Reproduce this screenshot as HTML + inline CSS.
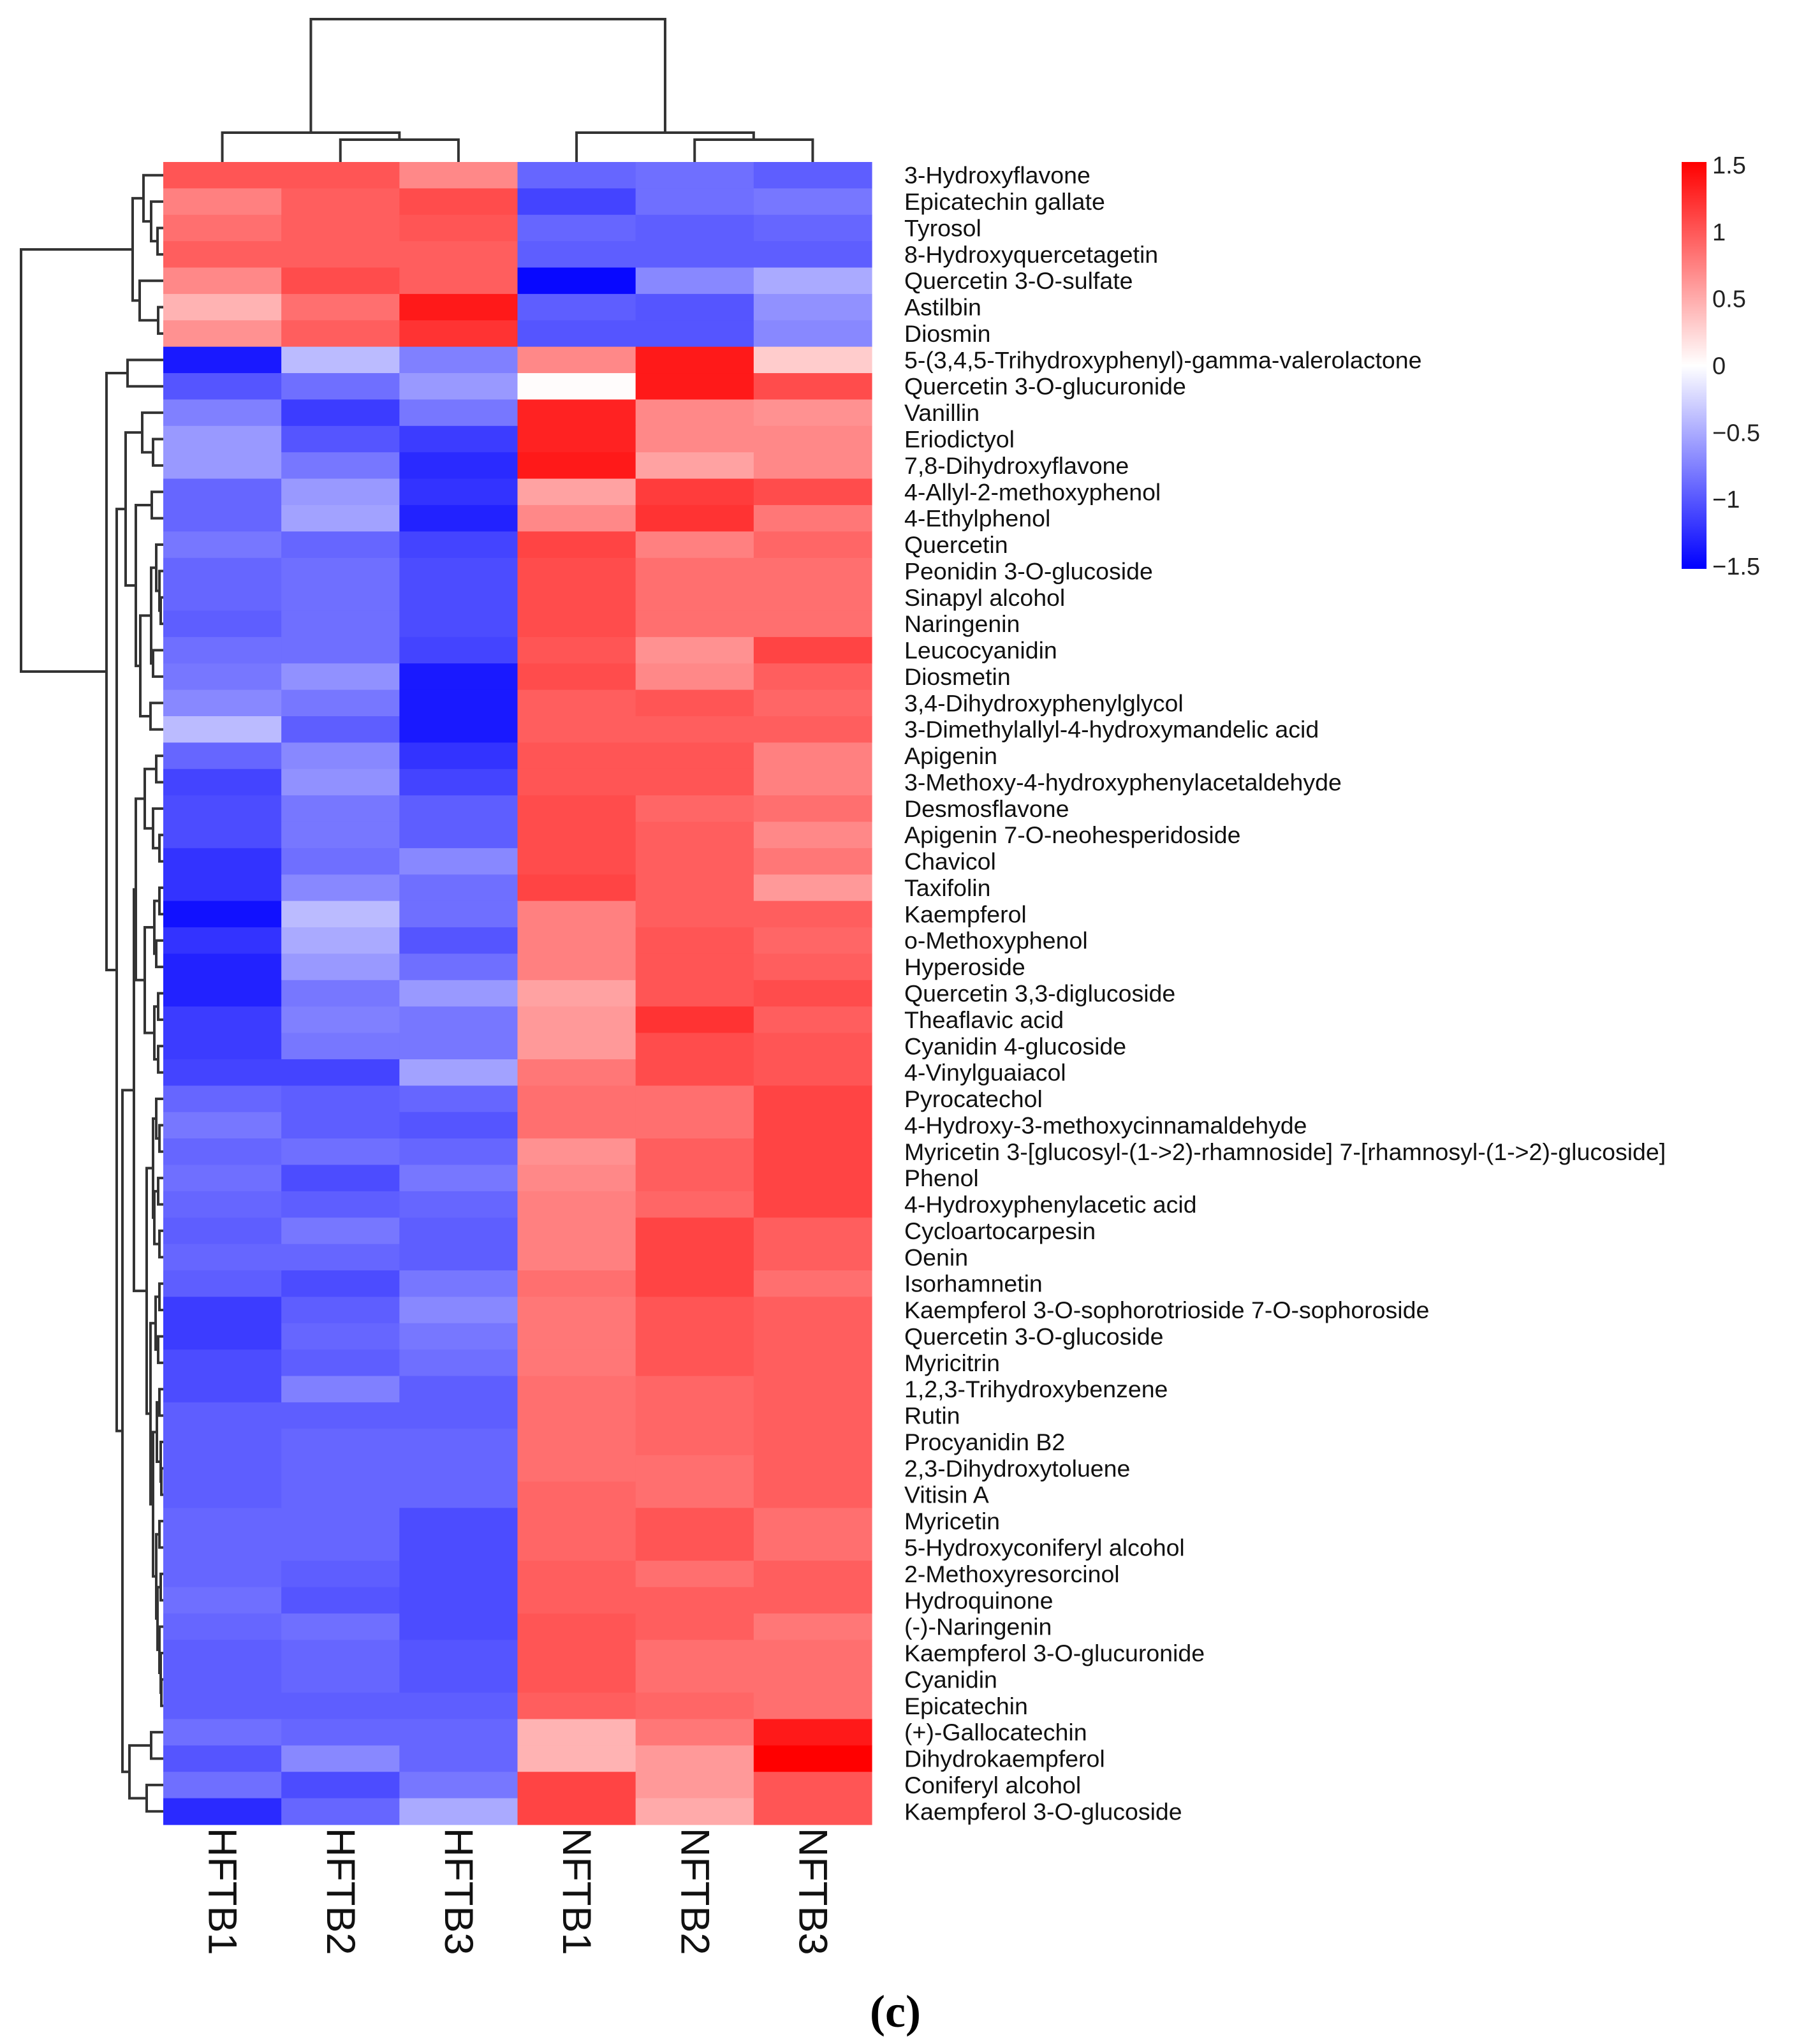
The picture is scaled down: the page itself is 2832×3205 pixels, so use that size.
<!DOCTYPE html>
<html><head><meta charset="utf-8"><title>Heatmap</title>
<style>html,body{margin:0;padding:0;background:#fff}svg{display:block}text{font-family:"Liberation Sans",sans-serif}</style></head>
<body>
<svg id="chart" width="2832" height="3205" viewBox="0 0 2832 3205" xmlns="http://www.w3.org/2000/svg">
<defs>
<linearGradient id="cbar" x1="0" y1="0" x2="0" y2="1">
<stop offset="0" stop-color="#ff0000"/><stop offset="0.5" stop-color="#ffffff"/><stop offset="1" stop-color="#0000ff"/>
</linearGradient>
</defs>
<g id="cells"></g>
<g id="rowlabels"></g>
<g id="collabels"></g>
<g id="dendro" stroke="#333" stroke-width="4" fill="none"></g>
<g id="legend">
<rect x="2637" y="254" width="39" height="638" fill="url(#cbar)"/>
</g>
<text x="1404" y="3178" style="font-family:'Liberation Serif',serif" font-weight="bold" font-size="72" text-anchor="middle">(c)</text>
</svg>
<script>
const rowNames = ["3-Hydroxyflavone","Epicatechin gallate","Tyrosol","8-Hydroxyquercetagetin","Quercetin 3-O-sulfate","Astilbin","Diosmin","5-(3,4,5-Trihydroxyphenyl)-gamma-valerolactone","Quercetin 3-O-glucuronide","Vanillin","Eriodictyol","7,8-Dihydroxyflavone","4-Allyl-2-methoxyphenol","4-Ethylphenol","Quercetin","Peonidin 3-O-glucoside","Sinapyl alcohol","Naringenin","Leucocyanidin","Diosmetin","3,4-Dihydroxyphenylglycol","3-Dimethylallyl-4-hydroxymandelic acid","Apigenin","3-Methoxy-4-hydroxyphenylacetaldehyde","Desmosflavone","Apigenin 7-O-neohesperidoside","Chavicol","Taxifolin","Kaempferol","o-Methoxyphenol","Hyperoside","Quercetin 3,3-diglucoside","Theaflavic acid","Cyanidin 4-glucoside","4-Vinylguaiacol","Pyrocatechol","4-Hydroxy-3-methoxycinnamaldehyde","Myricetin 3-[glucosyl-(1->2)-rhamnoside] 7-[rhamnosyl-(1->2)-glucoside]","Phenol","4-Hydroxyphenylacetic acid","Cycloartocarpesin","Oenin","Isorhamnetin","Kaempferol 3-O-sophorotrioside 7-O-sophoroside","Quercetin 3-O-glucoside","Myricitrin","1,2,3-Trihydroxybenzene","Rutin","Procyanidin B2","2,3-Dihydroxytoluene","Vitisin A","Myricetin","5-Hydroxyconiferyl alcohol","2-Methoxyresorcinol","Hydroquinone","(-)-Naringenin","Kaempferol 3-O-glucuronide","Cyanidin","Epicatechin","(+)-Gallocatechin","Dihydrokaempferol","Coniferyl alcohol","Kaempferol 3-O-glucoside"];
const colNames = ["HFTB1","HFTB2","HFTB3","NFTB1","NFTB2","NFTB3"];
const legendTicks = [1.5,1,0.5,0,-0.5,-1,-1.5];
const legendTickLabels = ["1.5","1","0.5","0","\u22120.5","\u22121","\u22121.5"];
const values = [
[1.0,1.0,0.7,-0.9,-0.85,-0.95],
[0.75,0.95,1.05,-1.1,-0.85,-0.8],
[0.85,0.95,1.0,-0.9,-0.95,-0.9],
[0.95,0.95,0.95,-0.95,-0.95,-0.95],
[0.7,1.05,0.95,-1.45,-0.7,-0.5],
[0.45,0.85,1.35,-0.95,-1.0,-0.65],
[0.65,0.95,1.2,-1.0,-1.0,-0.7],
[-1.35,-0.4,-0.75,0.7,1.35,0.3],
[-1.0,-0.85,-0.6,0.02,1.35,1.05],
[-0.75,-1.15,-0.8,1.3,0.7,0.65],
[-0.6,-1.0,-1.15,1.3,0.7,0.7],
[-0.6,-0.8,-1.25,1.35,0.55,0.7],
[-0.9,-0.6,-1.2,0.55,1.15,1.05],
[-0.9,-0.55,-1.3,0.7,1.2,0.8],
[-0.8,-0.9,-1.1,1.1,0.75,0.9],
[-0.9,-0.85,-1.05,1.05,0.85,0.85],
[-0.9,-0.85,-1.05,1.05,0.85,0.85],
[-0.95,-0.85,-1.05,1.05,0.85,0.85],
[-0.85,-0.85,-1.1,1.0,0.65,1.1],
[-0.8,-0.65,-1.35,1.05,0.7,0.95],
[-0.7,-0.8,-1.35,0.95,1.0,0.9],
[-0.4,-0.95,-1.35,0.95,0.95,0.95],
[-0.9,-0.7,-1.2,1.0,1.0,0.75],
[-1.1,-0.65,-1.1,1.0,1.0,0.75],
[-1.05,-0.8,-0.95,1.05,0.9,0.85],
[-1.05,-0.8,-0.95,1.05,0.95,0.7],
[-1.2,-0.85,-0.7,1.05,0.95,0.8],
[-1.2,-0.7,-0.85,1.1,0.95,0.6],
[-1.4,-0.4,-0.85,0.75,0.95,0.95],
[-1.2,-0.5,-1.0,0.75,1.0,0.9],
[-1.3,-0.6,-0.85,0.75,1.0,0.95],
[-1.3,-0.8,-0.6,0.55,1.0,1.05],
[-1.15,-0.75,-0.8,0.6,1.2,0.95],
[-1.15,-0.8,-0.8,0.6,1.05,1.0],
[-1.1,-1.1,-0.55,0.8,1.05,1.0],
[-0.9,-0.95,-0.9,0.85,0.85,1.1],
[-0.8,-0.95,-1.0,0.85,0.85,1.1],
[-0.9,-0.85,-0.9,0.65,0.95,1.1],
[-0.85,-1.05,-0.8,0.7,0.95,1.1],
[-0.9,-0.95,-0.9,0.75,0.9,1.1],
[-0.95,-0.8,-0.95,0.75,1.1,0.95],
[-0.9,-0.9,-0.95,0.75,1.1,0.95],
[-0.95,-1.05,-0.8,0.85,1.1,0.85],
[-1.15,-0.95,-0.7,0.8,1.0,0.95],
[-1.15,-0.9,-0.8,0.8,1.0,0.95],
[-1.05,-0.95,-0.85,0.8,1.0,0.95],
[-1.05,-0.75,-0.95,0.85,0.9,0.95],
[-0.95,-0.95,-0.95,0.85,0.9,0.95],
[-0.95,-0.9,-0.9,0.85,0.9,0.95],
[-0.95,-0.9,-0.9,0.85,0.85,0.95],
[-0.95,-0.9,-0.9,0.9,0.85,0.95],
[-0.9,-0.9,-1.05,0.9,1.0,0.85],
[-0.9,-0.9,-1.05,0.9,1.0,0.85],
[-0.9,-0.95,-1.05,0.95,0.85,0.95],
[-0.85,-1.0,-1.05,0.95,0.95,0.95],
[-0.9,-0.85,-1.05,1.0,0.95,0.8],
[-0.95,-0.9,-1.0,1.0,0.85,0.85],
[-0.95,-0.9,-1.0,1.0,0.85,0.85],
[-0.95,-0.95,-0.95,0.95,0.9,0.85],
[-0.85,-0.9,-0.9,0.45,0.8,1.35],
[-1.0,-0.7,-0.9,0.45,0.6,1.5],
[-0.85,-1.05,-0.8,1.1,0.6,1.0],
[-1.25,-0.9,-0.5,1.1,0.5,1.0]
];
// dendrogram topology: [mergeHeight, left, right]; leaves are indices
const rowTree = [33,
 [208,[225,0,[237,1,[247,2,3]]],[219,4,[248,5,6]]],
 [167,[200,7,8],
  [183,
   [197,[223,9,[240,10,11]],[213,[238,12,13],[220,[237,[245,14,[250,15,[252,16,17]]],[240,18,19]],[236,20,21]]]],
   [192,
    [210,
     [213,[227,[245,22,23],[240,24,[250,25,26]]],[227,[242,[250,27,28],[245,29,30]],[242,[248,31,32],[248,33,34]]]],
     [230,[240,[245,35,[250,36,37]],[242,[248,38,39],[250,40,41]]],[236,[244,[250,42,43],[248,44,45]],[240,[246,[250,46,47],[252,48,[253,49,50]]],[245,[250,51,52],[247,[252,53,54],[250,55,[252,56,[253,57,58]]]]]]]]],
    [203,[237,59,60],[230,61,62]]]]]];
const colTree = [30,[208,0,[219,1,2]],[208,3,[219,4,5]]];

const NS="http://www.w3.org/2000/svg";
const X0=256, X1=1367, Y0=254, Y1=2861;
const cw=(X1-X0)/colNames.length, rh=(Y1-Y0)/rowNames.length;
const xCol=i=>X0+i*cw, yRow=i=>Y0+i*rh;
function color(v){v=Math.max(-1.5,Math.min(1.5,v));const t=Math.abs(v)/1.5;const c=Math.round(255*(1-t));return v>=0?`rgb(255,${c},${c})`:`rgb(${c},${c},255)`;}
function mk(tag,attrs,parent){const e=document.createElementNS(NS,tag);for(const k in attrs)e.setAttribute(k,attrs[k]);parent.appendChild(e);return e;}

const cells=document.getElementById('cells');
values.forEach((row,r)=>row.forEach((v,c)=>{
  const e=mk('rect',{x:xCol(c),y:yRow(r),width:cw+0.6,height:rh+0.6,fill:color(v)},cells);
  
  
}));
const rl=document.getElementById('rowlabels');
rowNames.forEach((n,r)=>{
  const t=mk('text',{x:1418,y:yRow(r)+rh/2,'font-size':37.5,'dominant-baseline':'central',fill:'#111'},rl);
  t.textContent=n;
  
  
});
const cl=document.getElementById('collabels');
colNames.forEach((n,c)=>{
  const cx=xCol(c)+cw/2, y=2866;
  const t=mk('text',{x:0,y:0,'font-size':63,'dominant-baseline':'central',transform:`translate(${cx},${y}) rotate(90)`,fill:'#111'},cl);
  t.textContent=n;
  
  
});
const dg=document.getElementById('dendro');
function drawRow(node){
  if(typeof node==='number') return {y:yRow(node)+rh/2,x:X0};
  const a=drawRow(node[1]), b=drawRow(node[2]), h=node[0];
  const p=mk('path',{d:`M${a.x},${a.y}H${h}V${b.y}H${b.x}`},dg);
  
  
  return {y:(a.y+b.y)/2,x:h};
}
function drawCol(node){
  if(typeof node==='number') return {x:xCol(node)+cw/2,y:Y0};
  const a=drawCol(node[1]), b=drawCol(node[2]), h=node[0];
  const p=mk('path',{d:`M${a.x},${a.y}V${h}H${b.x}V${b.y}`},dg);
  
  
  return {x:(a.x+b.x)/2,y:h};
}
drawRow(rowTree); drawCol(colTree);
const lg=document.getElementById('legend');
legendTicks.forEach((v,i)=>{
  const y=260+(1.5-v)/3*(889-260);
  const t=mk('text',{x:2685,y:y,'font-size':38,'dominant-baseline':'central',fill:'#222'},lg);
  t.textContent=legendTickLabels[i];
  
  
});
</script>
</body></html>
